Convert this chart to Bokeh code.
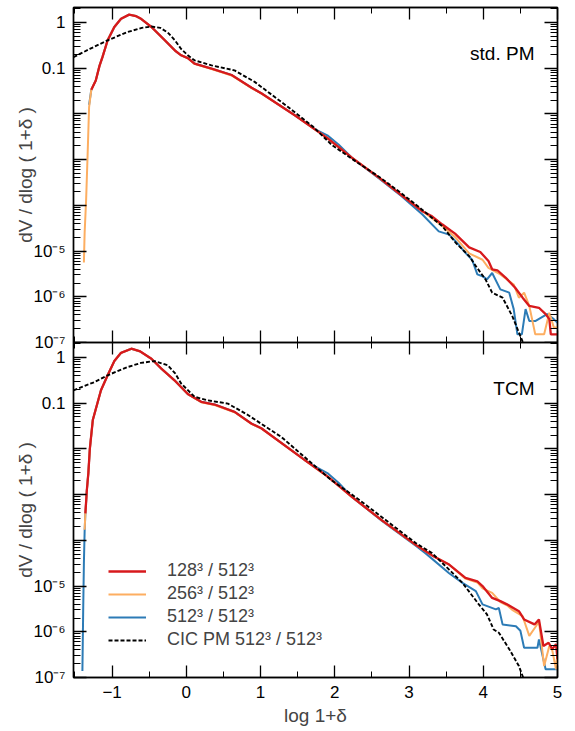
from bokeh.plotting import figure
from bokeh.models import (FixedTicker, CustomJSTickFormatter, LinearAxis, LogAxis,
                          Legend, LegendItem, Label, Range1d)
from bokeh.layouts import column
from bokeh.embed import file_html
from bokeh.resources import INLINE

FONT = "Liberation Sans"
RED, ORANGE, BLUE, BLACK = "#d7191c", "#fdae61", "#2c7bb6", "#000000"

# ---------------- axes / ticks ----------------
x_major = [-1, 0, 1, 2, 3, 4, 5]
x_minor = [-1.5, -0.5, 0.5, 1.5, 2.5, 3.5, 4.5]
y_decades = [1e-7, 1e-6, 1e-5, 1e-4, 1e-3, 1e-2, 1e-1, 1.0]
y_minor = [m * d for d in y_decades for m in range(2, 10)]
x_start, x_end = -1.52, 5.0
y_start, y_end = 1e-7, 2.12

legend_labels = ["128³ / 512³", "256³ / 512³", "512³ / 512³", "CIC PM 512³ / 512³"]
panel_names = ["std. PM", "TCM"]

# ---------------- data: top panel (std. PM) ----------------
red_top_x = [-1.28, -1.22, -1.17, -1.13, -1.06, -0.97, -0.88, -0.77, -0.68, -0.61, -0.47, -0.29,
             -0.15, -0.07, 0.02, 0.11, 0.34, 0.61, 0.88, 1.01, 1.46, 1.9, 2.23, 2.6, 2.9, 3.18,
             3.31, 3.45, 3.62, 3.81, 3.96, 4.07, 4.12, 4.19, 4.30, 4.43, 4.53, 4.62, 4.75, 4.84,
             4.89, 4.91, 5.0]
red_top_y = [3.39e-2, 5.37e-2, 1.12e-1, 1.74e-1, 4.07e-1, 7.94e-1, 1.20, 1.48, 1.38, 1.20, 0.794, 0.407,
             0.240, 0.191, 0.166, 0.126, 0.0977, 0.0708, 0.0372, 0.0282, 9.33e-3, 2.95e-3, 1.10e-3, 3.98e-4, 1.66e-4, 7.41e-5,
             5.75e-5, 3.80e-5, 2.40e-5, 1.20e-5, 9.55e-6, 6.03e-6, 3.98e-6, 3.80e-6, 2.63e-6, 1.58e-6, 9.55e-7, 6.31e-7, 5.75e-7, 4.17e-7,
             3.24e-7, 1.51e-7, 1.51e-7]

orange_top_x = [-1.38, -1.37, -1.35, -1.33, -1.31, -1.28, -1.22, -1.17, -1.13, -1.06, -0.97, -0.88, -0.77,
                -0.68, -0.61, -0.47, -0.29, -0.15, -0.07, 0.02, 0.11, 0.34, 0.61, 0.88, 1.01, 1.46, 1.9,
                2.23, 2.6, 2.9, 3.18, 3.45, 3.63, 3.81, 3.99, 4.07, 4.23, 4.32, 4.41, 4.48, 4.55, 4.62,
                4.70, 4.82, 4.89, 4.95, 5.0]
orange_top_y = [5.62e-6, 2.51e-5, 1.32e-4, 1.26e-3, 1.41e-2, 3.39e-2, 5.37e-2, 1.12e-1, 1.74e-1, 4.07e-1, 7.94e-1, 1.20, 1.48,
                1.38, 1.20, 0.794, 0.407, 0.240, 0.191, 0.166, 0.124, 0.0955, 0.0692, 0.0365, 0.0280, 9.33e-3, 2.95e-3,
                1.10e-3, 3.98e-4, 1.66e-4, 7.41e-5, 3.55e-5, 1.95e-5, 8.91e-6, 6.46e-6, 4.27e-6, 3.09e-6, 2.40e-6, 1.86e-6, 9.55e-7, 1.23e-6, 6.31e-7,
                1.51e-7, 1.51e-7, 4.47e-7, 2.14e-7, 2.14e-7]

blue_top_x = [-1.31, -1.28, -1.22, -1.17, -1.13, -1.06, -0.97, -0.88, -0.77, -0.68, -0.61, -0.47, -0.29,
              -0.15, -0.07, 0.02, 0.11, 0.34, 0.61, 0.88, 1.01, 1.46, 1.75, 1.9, 2.05, 2.23, 2.6, 2.9,
              3.18, 3.40, 3.54, 3.63, 3.76, 3.85, 3.92, 3.99, 4.05, 4.12, 4.23, 4.35, 4.41, 4.46, 4.52,
              4.57, 4.62, 4.70, 4.86, 4.95, 5.0]
blue_top_y = [1.58e-2, 3.39e-2, 5.37e-2, 1.12e-1, 1.74e-1, 4.07e-1, 7.94e-1, 1.20, 1.48, 1.38, 1.20, 0.794, 0.407,
              0.240, 0.191, 0.166, 0.126, 0.0977, 0.0708, 0.0372, 0.0282, 9.33e-3, 4.47e-3, 3.39e-3, 2.14e-3, 1.10e-3, 3.80e-4, 1.58e-4,
              6.31e-5, 2.69e-5, 2.29e-5, 1.62e-5, 9.12e-6, 6.46e-6, 3.09e-6, 2.82e-6, 2.40e-6, 3.31e-6, 1.45e-6, 1.23e-6, 5.37e-7, 1.51e-7, 1.51e-7,
              5.37e-7, 2.95e-7, 2.95e-7, 4.17e-7, 3.24e-7, 2.69e-7]

cic_top_x = [-1.52, -1.3, -1.06, -0.79, -0.6, -0.47, -0.35, -0.25, -0.15, -0.07, 0.02, 0.11, 0.34,
             0.65, 0.92, 1.37, 1.7, 1.96, 2.3, 2.6, 2.9, 3.18, 3.45, 3.63, 3.81, 3.90, 4.03, 4.12,
             4.26, 4.39, 4.50, 4.56]
cic_top_y = [0.174, 0.263, 0.407, 0.617, 0.759, 0.813, 0.759, 0.603, 0.398, 0.263, 0.191, 0.148, 0.115,
             0.0891, 0.0501, 1.41e-2, 5.37e-3, 2.09e-3, 8.71e-4, 4.17e-4, 1.82e-4, 7.94e-5, 3.47e-5, 1.51e-5, 7.76e-6, 4.68e-6, 2.40e-6, 1.23e-6,
             9.55e-7, 3.80e-7, 1.38e-7, 7.94e-8]

# ---------------- data: bottom panel (TCM) ----------------
red_bot_x = [-1.36, -1.34, -1.32, -1.30, -1.26, -1.15, -1.06, -0.97, -0.88, -0.74, -0.62, -0.47, -0.34,
             -0.16, 0.02, 0.2, 0.38, 0.65, 0.88, 1.01, 1.6, 1.9, 2.23, 2.64, 3.09, 3.31, 3.54, 3.76,
             3.92, 3.99, 4.12, 4.23, 4.32, 4.48, 4.55, 4.69, 4.75, 4.81, 4.88, 4.93, 4.98, 5.0]
red_bot_y = [3.89e-4, 1.26e-3, 2.95e-3, 1.0e-2, 4.27e-2, 0.191, 0.407, 0.832, 1.26, 1.55, 1.35, 0.933, 0.575,
             0.316, 0.158, 0.107, 0.0933, 0.0646, 0.0355, 0.0282, 5.62e-3, 2.51e-3, 8.91e-4, 2.69e-4, 7.94e-5, 4.68e-5, 2.95e-5, 1.51e-5,
             1.26e-5, 1.0e-5, 5.50e-6, 4.68e-6, 3.98e-6, 2.82e-6, 1.86e-6, 1.45e-6, 1.86e-6, 4.90e-7, 5.75e-7, 4.17e-7, 5.37e-7, 2.51e-7]

orange_bot_x = [-1.37, -1.36, -1.34, -1.32, -1.30, -1.26, -1.15, -1.06, -0.97, -0.88, -0.74, -0.62, -0.47,
                -0.34, -0.16, 0.02, 0.2, 0.38, 0.65, 0.88, 1.01, 1.6, 1.9, 2.23, 2.64, 3.09, 3.31, 3.54,
                3.76, 3.92, 3.99, 4.12, 4.23, 4.32, 4.39, 4.53, 4.62, 4.71, 4.75, 4.82, 4.89, 4.93, 4.98, 5.0]
orange_bot_y = [1.70e-4, 3.89e-4, 1.26e-3, 2.95e-3, 1.0e-2, 4.27e-2, 0.191, 0.407, 0.832, 1.26, 1.55, 1.35, 0.933,
                0.575, 0.316, 0.158, 0.105, 0.0912, 0.0631, 0.0350, 0.0280, 5.62e-3, 2.51e-3, 8.91e-4, 2.69e-4, 7.94e-5, 4.68e-5, 2.95e-5,
                1.45e-5, 1.20e-5, 8.91e-6, 7.08e-6, 4.47e-6, 3.80e-6, 3.02e-6, 2.19e-6, 8.13e-7, 1.32e-6, 1.70e-6, 1.78e-7, 4.90e-7, 3.89e-7, 1.51e-7, 3.55e-7]

blue_bot_x = [-1.40, -1.39, -1.38, -1.37, -1.36, -1.34, -1.32, -1.30, -1.26, -1.15, -1.06, -0.97, -0.88,
              -0.74, -0.62, -0.47, -0.34, -0.16, 0.02, 0.2, 0.38, 0.65, 0.88, 1.01, 1.6, 1.75, 1.9, 2.05,
              2.23, 2.64, 3.09, 3.22, 3.54, 3.72, 3.90, 3.99, 4.17, 4.21, 4.26, 4.44, 4.50, 4.55, 4.73,
              4.75, 4.84, 5.0]
blue_bot_y = [1.38e-7, 2.51e-6, 3.16e-5, 1.58e-4, 3.89e-4, 1.26e-3, 2.95e-3, 1.0e-2, 4.27e-2, 0.191, 0.407, 0.832, 1.26,
              1.55, 1.35, 0.933, 0.575, 0.316, 0.158, 0.107, 0.0933, 0.0646, 0.0355, 0.0282, 5.62e-3, 3.98e-3, 2.95e-3, 1.82e-3,
              8.91e-4, 2.63e-4, 7.59e-5, 5.25e-5, 1.91e-5, 1.17e-5, 7.76e-6, 3.98e-6, 3.09e-6, 3.31e-6, 1.45e-6, 1.32e-6, 1.05e-6, 4.47e-7, 4.47e-7,
              6.76e-7, 1.51e-7, 1.51e-7]

cic_bot_x = [-1.52, -1.24, -1.06, -0.79, -0.61, -0.43, -0.25, -0.15, -0.07, 0.11, 0.29, 0.56, 0.83,
             1.28, 1.7, 1.95, 2.3, 2.64, 3.09, 3.31, 3.54, 3.72, 3.94, 4.05, 4.14, 4.21, 4.35, 4.48, 4.56]
cic_bot_y = [0.191, 0.288, 0.407, 0.617, 0.759, 0.832, 0.676, 0.447, 0.269, 0.138, 0.115, 0.0977, 0.0550,
             0.0182, 4.68e-3, 2.09e-3, 8.32e-4, 3.16e-4, 8.71e-5, 5.25e-5, 2.29e-5, 1.17e-5, 3.98e-6, 2.40e-6, 1.12e-6, 9.55e-7, 4.17e-7, 1.78e-7, 7.94e-8]

# ---------------- helpers ----------------
blank = CustomJSTickFormatter(code='return "";')
x_fmt = CustomJSTickFormatter(code='return tick < 0 ? "\\u2212" + String(-tick) : String(tick);')

y_code = """
const e = Math.round(Math.log10(tick));
if (e === 0) return "1";
if (e === -1) return "0.1";
if (e > -5) return "";
const sup = {"-5": "\\u207b\\u2075", "-6": "\\u207b\\u2076", "-7": "\\u207b\\u2077"};
return "10" + sup[String(e)];
"""

OVERLAP = 10  # the upper canvas extends below its frame so its lowest tick label is not cut


def style_axis(ax, major_len, minor_len, labels=True):
    ax.axis_line_color = "black"
    ax.axis_line_width = 1.4
    ax.major_tick_line_color = "black"
    ax.minor_tick_line_color = "black"
    ax.major_tick_line_width = 1.3
    ax.minor_tick_line_width = 1.0
    ax.major_tick_in = major_len
    ax.major_tick_out = 0
    ax.minor_tick_in = minor_len
    ax.minor_tick_out = 0
    if labels:
        ax.major_label_text_font = FONT
        ax.major_label_text_font_size = "17px"
        ax.major_label_text_color = "black"
        ax.major_label_standoff = 8
    else:
        ax.major_label_text_font_size = "0px"
        ax.major_label_standoff = 0


x_range = Range1d(x_start, x_end)


def make_panel(top, series, name):
    h = 342 + OVERLAP if top else 389
    p = figure(width=575, height=h, frame_width=484, frame_height=335,
               x_range=x_range, y_range=Range1d(y_start, y_end), y_axis_type="log",
               output_backend="svg", toolbar_location=None,
               min_border_left=73, min_border_right=18,
               min_border_top=7 if top else 0, min_border_bottom=OVERLAP if top else 54)
    p.xgrid.visible = False
    p.ygrid.visible = False
    p.outline_line_color = "black"
    p.outline_line_width = 1.4
    p.background_fill_color = "white"
    if top:
        p.border_fill_color = "white"
    else:
        p.border_fill_color = None
        p.margin = (-OVERLAP, 0, 0, 0)

    xt = FixedTicker(ticks=x_major, minor_ticks=x_minor)
    yt = FixedTicker(ticks=y_decades, minor_ticks=y_minor)

    # left axis
    ly = p.yaxis[0]
    ly.ticker = yt
    ly.formatter = CustomJSTickFormatter(code=y_code)
    style_axis(ly, 13, 7)
    ly.axis_label = "dV / dlog ( 1+δ )"
    ly.axis_label_text_font = FONT
    ly.axis_label_text_font_size = "19px"
    ly.axis_label_text_font_style = "normal"
    ly.axis_label_standoff = -5

    # bottom axis
    bx = p.xaxis[0]
    bx.ticker = xt
    if top:
        bx.formatter = blank
        style_axis(bx, 12, 6, labels=False)
    else:
        bx.formatter = x_fmt
        style_axis(bx, 12, 6)
        bx.axis_label = "log 1+δ"
        bx.axis_label_text_font = FONT
        bx.axis_label_text_font_size = "19px"
        bx.axis_label_text_font_style = "normal"
        bx.axis_label_standoff = 4

    ra = LogAxis(ticker=yt, formatter=blank)
    style_axis(ra, 13, 7, labels=False)
    p.add_layout(ra, "right")
    ta = LinearAxis(ticker=xt, formatter=blank)
    style_axis(ta, 12, 6, labels=False)
    p.add_layout(ta, "above")

    (rx, ry), (ox, oy), (bx_, by), (cx, cy) = series
    rb = p.line(bx_, by, line_color=BLUE, line_width=2.0)
    ro = p.line(ox, oy, line_color=ORANGE, line_width=2.0)
    rr = p.line(rx, ry, line_color=RED, line_width=2.3)
    rc = p.line(cx, cy, line_color=BLACK, line_width=1.9, line_dash="4 2")
    rends = [rr, ro, rb, rc]

    lab = Label(x=4.69, y=0.211, text=name, text_align="right", text_baseline="middle",
                text_font=FONT, text_font_size="19px", text_color="black")
    p.add_layout(lab)
    return p, rends


p1, _ = make_panel(True, [(red_top_x, red_top_y), (orange_top_x, orange_top_y),
                          (blue_top_x, blue_top_y), (cic_top_x, cic_top_y)], panel_names[0])
p2, rends = make_panel(False, [(red_bot_x, red_bot_y), (orange_bot_x, orange_bot_y),
                               (blue_bot_x, blue_bot_y), (cic_bot_x, cic_bot_y)], panel_names[1])

legend = Legend(items=[LegendItem(label=l, renderers=[r]) for l, r in zip(legend_labels, rends)],
                location=(35, 27), padding=0, margin=0, spacing=2,
                glyph_width=38, glyph_height=20, label_height=20, label_standoff=21,
                label_text_font=FONT, label_text_font_size="18px",
                border_line_color=None, background_fill_alpha=0)
p2.add_layout(legend)

layout = column(p1, p2, spacing=0)
open("out.html", "w").write(file_html(layout, INLINE))
